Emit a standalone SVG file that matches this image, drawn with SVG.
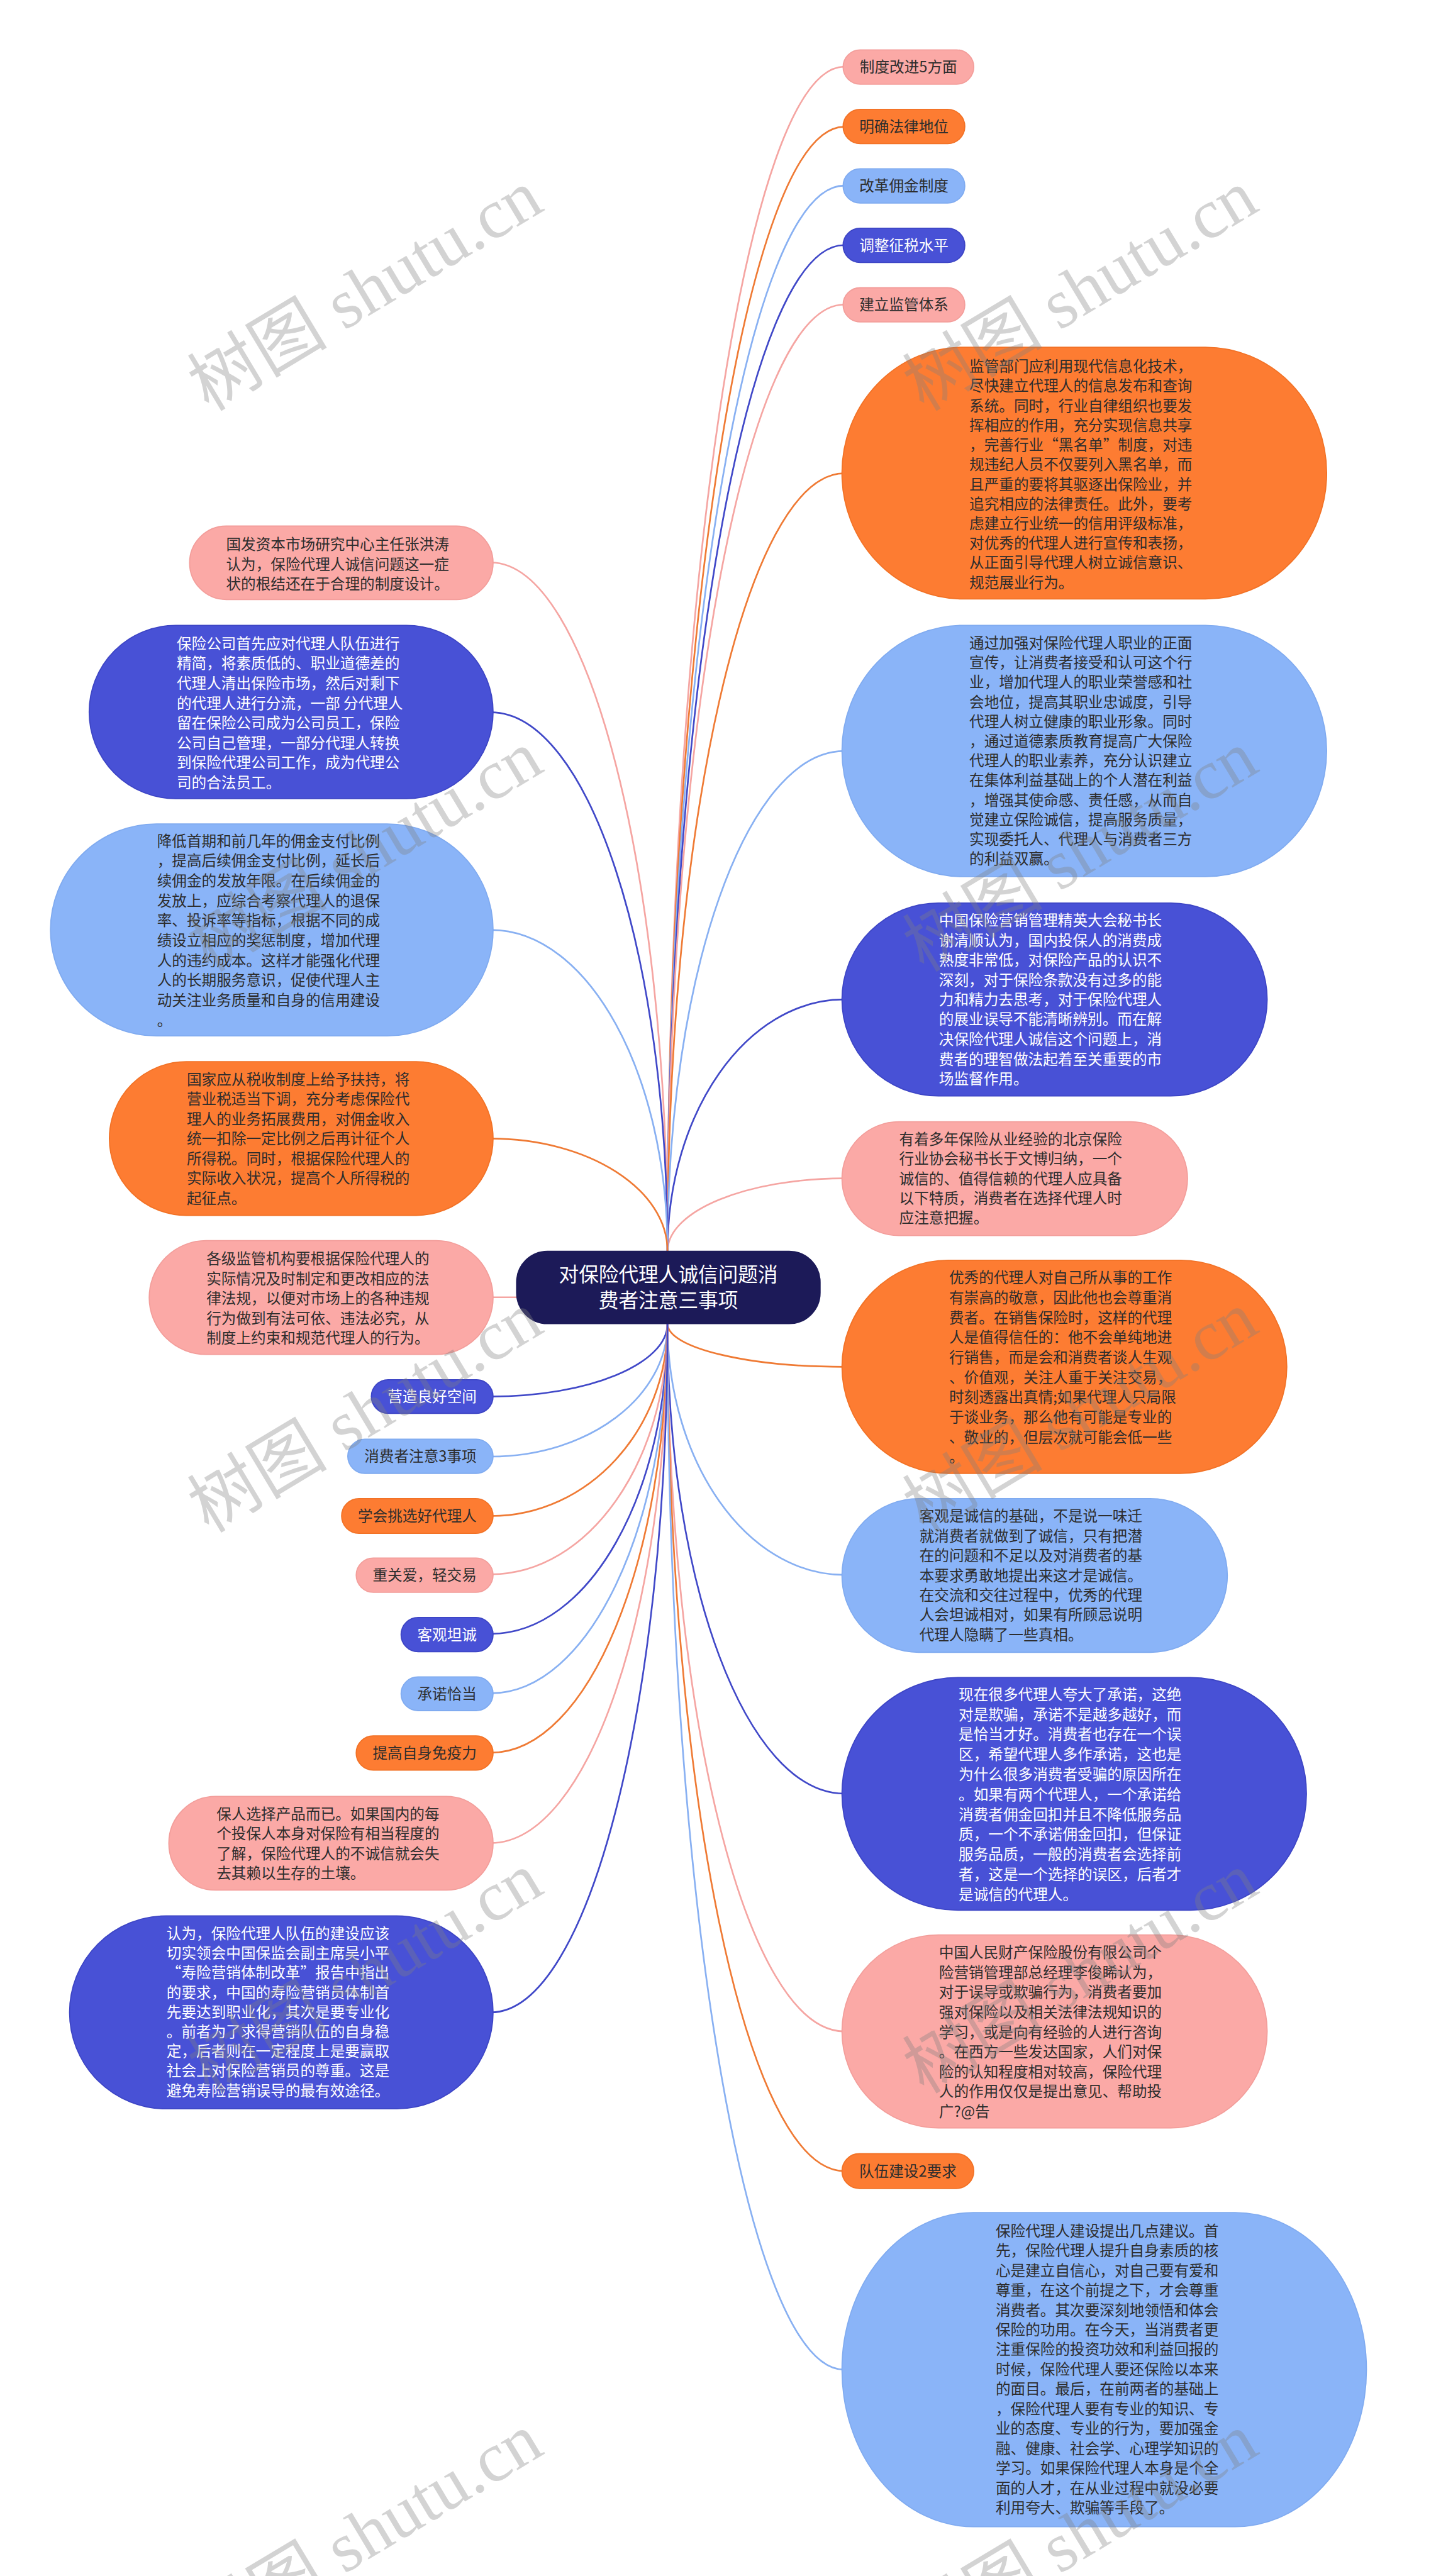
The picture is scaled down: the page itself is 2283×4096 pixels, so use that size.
<svg xmlns="http://www.w3.org/2000/svg" width="2283" height="4096" viewBox="0 0 2283 4096">
<style>
.t{font-family:"Noto Sans CJK SC","Liberation Sans",sans-serif;font-size:26.5px}
.c{text-anchor:middle}
.d{fill:#2d2d2d}
.w{fill:#ffffff}
.pk{fill:#fba9a6;stroke:#f39e9b;stroke-width:2}
.or{fill:#fd7c32;stroke:#f27226;stroke-width:2}
.lb{fill:#8ab4f8;stroke:#80abf0;stroke-width:2}
.db{fill:#4851d6;stroke:#3d45c5;stroke-width:2}
.nv{fill:#1c1a58;stroke:#1c1a58;stroke-width:2}
.cl{fill:none;stroke-width:3}
.cpk{stroke:#f5a5a2}.cor{stroke:#ef7a34}.clb{stroke:#88b0f2}.cdb{stroke:#4048c8}
.wm{font-family:"Liberation Serif","Noto Sans CJK SC",serif;font-size:125px;fill:#808080;opacity:.34;text-anchor:middle;dominant-baseline:central}
</style>
<rect width="2283" height="4096" fill="#ffffff"/>
<g transform="scale(0.8918)">
<g id="connectors">
<path class="cl cpk" d="M1190,2231 C1190,1065 1331,119 1505,119"/>
<path class="cl cor" d="M1190,2231 C1190,1124 1331,226 1505,226"/>
<path class="cl clb" d="M1190,2231 C1190,1182 1331,331 1505,331"/>
<path class="cl cdb" d="M1190,2231 C1190,1241 1331,437 1505,437"/>
<path class="cl cpk" d="M1190,2231 C1190,1299 1331,543 1505,543"/>
<path class="cl cor" d="M1190,2231 C1190,1465 1331,844 1505,844"/>
<path class="cl clb" d="M1190,2231 C1190,1739 1331,1339 1505,1339"/>
<path class="cl cdb" d="M1190,2231 C1190,1983 1331,1782 1505,1782"/>
<path class="cl cpk" d="M1190,2231 C1190,2159 1331,2101 1505,2101"/>
<path class="cl cor" d="M1190,2360 C1190,2403 1331,2437 1505,2437"/>
<path class="cl clb" d="M1190,2360 C1190,2607 1331,2808 1505,2808"/>
<path class="cl cdb" d="M1190,2360 C1190,2823 1331,3198 1505,3198"/>
<path class="cl cpk" d="M1190,2360 C1190,3057 1331,3622 1505,3622"/>
<path class="cl cor" d="M1190,2360 C1190,3194 1331,3871 1505,3871"/>
<path class="cl clb" d="M1190,2360 C1190,3390 1331,4225 1505,4225"/>
<path class="cl cpk" d="M1190,2231 C1190,1553 1049,1003 875,1003"/>
<path class="cl cdb" d="M1190,2231 C1190,1700 1049,1270 875,1270"/>
<path class="cl clb" d="M1190,2231 C1190,1915 1049,1658 875,1658"/>
<path class="cl cor" d="M1190,2231 C1190,2120 1049,2030 875,2030"/>
<path class="cl cpk" d="M1000,2313 L875,2313"/>
<path class="cl cdb" d="M1190,2360 C1190,2432 1049,2490 875,2490"/>
<path class="cl clb" d="M1190,2360 C1190,2491 1049,2597 875,2597"/>
<path class="cl cor" d="M1190,2360 C1190,2549 1049,2703 875,2703"/>
<path class="cl cpk" d="M1190,2360 C1190,2607 1049,2807 875,2807"/>
<path class="cl cdb" d="M1190,2360 C1190,2665 1049,2913 875,2913"/>
<path class="cl clb" d="M1190,2360 C1190,2724 1049,3019 875,3019"/>
<path class="cl cor" d="M1190,2360 C1190,2782 1049,3125 875,3125"/>
<path class="cl cpk" d="M1190,2360 C1190,2871 1049,3286 875,3286"/>
<path class="cl cdb" d="M1190,2360 C1190,3038 1049,3588 875,3588"/>
</g>

<g id="center">
<rect class="nv" x="921" y="2231" width="541" height="129" rx="55"/>
<text class="t c w" style="font-size:35.5px"><tspan x="1191.5" y="2285">对保险代理人诚信问题消</tspan><tspan x="1191.5" y="2331">费者注意三事项</tspan></text>
</g>

<g id="r1"><rect class="pk" x="1503" y="89" width="233" height="61" rx="30.5"/><text class="t c d" x="1619.5" y="129">制度改进5方面</text></g>
<g id="r2"><rect class="or" x="1503" y="195" width="217" height="61" rx="30.5"/><text class="t c d" x="1611.5" y="235">明确法律地位</text></g>
<g id="r3"><rect class="lb" x="1503" y="301" width="217" height="61" rx="30.5"/><text class="t c d" x="1611.5" y="341">改革佣金制度</text></g>
<g id="r4"><rect class="db" x="1503" y="407" width="217" height="61" rx="30.5"/><text class="t c w" x="1611.5" y="447">调整征税水平</text></g>
<g id="r5"><rect class="pk" x="1503" y="513" width="217" height="61" rx="30.5"/><text class="t c d" x="1611.5" y="553">建立监管体系</text></g>

<g id="r6"><rect class="or" x="1501" y="619" width="864" height="449" rx="216" ry="224"/>
<text class="t d"><tspan x="1728" y="663">监管部门应利用现代信息化技术，</tspan><tspan x="1728" y="698">尽快建立代理人的信息发布和查询</tspan><tspan x="1728" y="733">系统。同时，行业自律组织也要发</tspan><tspan x="1728" y="768">挥相应的作用，充分实现信息共享</tspan><tspan x="1728" y="803">，完善行业“黑名单”制度，对违</tspan><tspan x="1728" y="838">规违纪人员不仅要列入黑名单，而</tspan><tspan x="1728" y="873">且严重的要将其驱逐出保险业，并</tspan><tspan x="1728" y="908">追究相应的法律责任。此外，要考</tspan><tspan x="1728" y="943">虑建立行业统一的信用评级标准，</tspan><tspan x="1728" y="978">对优秀的代理人进行宣传和表扬，</tspan><tspan x="1728" y="1013">从正面引导代理人树立诚信意识、</tspan><tspan x="1728" y="1048">规范展业行为。</tspan></text></g>

<g id="r7"><rect class="lb" x="1501" y="1115" width="864" height="448" rx="216" ry="224"/>
<text class="t d"><tspan x="1728" y="1156">通过加强对保险代理人职业的正面</tspan><tspan x="1728" y="1191">宣传，让消费者接受和认可这个行</tspan><tspan x="1728" y="1226">业，增加代理人的职业荣誉感和社</tspan><tspan x="1728" y="1261">会地位，提高其职业忠诚度，引导</tspan><tspan x="1728" y="1296">代理人树立健康的职业形象。同时</tspan><tspan x="1728" y="1331">，通过道德素质教育提高广大保险</tspan><tspan x="1728" y="1366">代理人的职业素养，充分认识建立</tspan><tspan x="1728" y="1401">在集体利益基础上的个人潜在利益</tspan><tspan x="1728" y="1436">，增强其使命感、责任感，从而自</tspan><tspan x="1728" y="1471">觉建立保险诚信，提高服务质量，</tspan><tspan x="1728" y="1506">实现委托人、代理人与消费者三方</tspan><tspan x="1728" y="1541">的利益双赢。</tspan></text></g>

<g id="r8"><rect class="db" x="1501" y="1610" width="758" height="344" rx="172"/>
<text class="t w"><tspan x="1674" y="1651">中国保险营销管理精英大会秘书长</tspan><tspan x="1674" y="1686">谢清顺认为，国内投保人的消费成</tspan><tspan x="1674" y="1721.5">熟度非常低，对保险产品的认识不</tspan><tspan x="1674" y="1757">深刻，对于保险条款没有过多的能</tspan><tspan x="1674" y="1792">力和精力去思考，对于保险代理人</tspan><tspan x="1674" y="1827">的展业误导不能清晰辨别。而在解</tspan><tspan x="1674" y="1862.5">决保险代理人诚信这个问题上，消</tspan><tspan x="1674" y="1898">费者的理智做法起着至关重要的市</tspan><tspan x="1674" y="1933">场监督作用。</tspan></text></g>

<g id="r9"><rect class="pk" x="1501" y="2000" width="616" height="203" rx="101.5"/>
<text class="t d"><tspan x="1603" y="2041">有着多年保险从业经验的北京保险</tspan><tspan x="1603" y="2076">行业协会秘书长于文博归纳，一个</tspan><tspan x="1603" y="2111">诚信的、值得信赖的代理人应具备</tspan><tspan x="1603" y="2146">以下特质，消费者在选择代理人时</tspan><tspan x="1603" y="2181">应注意把握。</tspan></text></g>

<g id="r10"><rect class="or" x="1501" y="2247" width="793" height="380" rx="190"/>
<text class="t d"><tspan x="1692" y="2288">优秀的代理人对自己所从事的工作</tspan><tspan x="1692" y="2323.5">有崇高的敬意，因此他也会尊重消</tspan><tspan x="1692" y="2359">费者。在销售保险时，这样的代理</tspan><tspan x="1692" y="2394.5">人是值得信任的：他不会单纯地进</tspan><tspan x="1692" y="2430">行销售，而是会和消费者谈人生观</tspan><tspan x="1692" y="2465.5">、价值观，关注人重于关注交易，</tspan><tspan x="1692" y="2501">时刻透露出真情;如果代理人只局限</tspan><tspan x="1692" y="2536.5">于谈业务，那么他有可能是专业的</tspan><tspan x="1692" y="2572">、敬业的，但层次就可能会低一些</tspan><tspan x="1692" y="2607.5">。</tspan></text></g>

<g id="r11"><rect class="lb" x="1501" y="2672" width="687" height="274" rx="137"/>
<text class="t d"><tspan x="1639" y="2713">客观是诚信的基础，不是说一味迁</tspan><tspan x="1639" y="2748">就消费者就做到了诚信，只有把潜</tspan><tspan x="1639" y="2783.5">在的问题和不足以及对消费者的基</tspan><tspan x="1639" y="2819">本要求勇敢地提出来这才是诚信。</tspan><tspan x="1639" y="2854">在交流和交往过程中，优秀的代理</tspan><tspan x="1639" y="2889">人会坦诚相对，如果有所顾忌说明</tspan><tspan x="1639" y="2924">代理人隐瞒了一些真相。</tspan></text></g>

<g id="r12"><rect class="db" x="1501" y="2991" width="828" height="415" rx="207"/>
<text class="t w"><tspan x="1709" y="3031">现在很多代理人夸大了承诺，这绝</tspan><tspan x="1709" y="3066.6">对是欺骗，承诺不是越多越好，而</tspan><tspan x="1709" y="3102">是恰当才好。消费者也存在一个误</tspan><tspan x="1709" y="3137.8">区，希望代理人多作承诺，这也是</tspan><tspan x="1709" y="3173.4">为什么很多消费者受骗的原因所在</tspan><tspan x="1709" y="3209">。如果有两个代理人，一个承诺给</tspan><tspan x="1709" y="3244.6">消费者佣金回扣并且不降低服务品</tspan><tspan x="1709" y="3280">质，一个不承诺佣金回扣，但保证</tspan><tspan x="1709" y="3315.8">服务品质，一般的消费者会选择前</tspan><tspan x="1709" y="3351.4">者，这是一个选择的误区，后者才</tspan><tspan x="1709" y="3387">是诚信的代理人。</tspan></text></g>

<g id="r13"><rect class="pk" x="1501" y="3450" width="758" height="344" rx="172"/>
<text class="t d"><tspan x="1674" y="3491">中国人民财产保险股份有限公司个</tspan><tspan x="1674" y="3526.4">险营销管理部总经理李俊睎认为，</tspan><tspan x="1674" y="3561.8">对于误导或欺骗行为，消费者要加</tspan><tspan x="1674" y="3597.2">强对保险以及相关法律法规知识的</tspan><tspan x="1674" y="3632.6">学习，或是向有经验的人进行咨询</tspan><tspan x="1674" y="3668">。在西方一些发达国家，人们对保</tspan><tspan x="1674" y="3703.4">险的认知程度相对较高，保险代理</tspan><tspan x="1674" y="3738.8">人的作用仅仅是提出意见、帮助投</tspan><tspan x="1674" y="3774.2">广?@告</tspan></text></g>

<g id="r14"><rect class="or" x="1501" y="3840" width="235" height="62" rx="31"/><text class="t c d" x="1618.5" y="3880.5">队伍建设2要求</text></g>

<g id="r15"><rect class="lb" x="1501" y="3945" width="935" height="560" rx="234" ry="280"/>
<text class="t d"><tspan x="1775" y="3987">保险代理人建设提出几点建议。首</tspan><tspan x="1775" y="4022.3">先，保险代理人提升自身素质的核</tspan><tspan x="1775" y="4057.6">心是建立自信心，对自己要有爱和</tspan><tspan x="1775" y="4092.9">尊重，在这个前提之下，才会尊重</tspan><tspan x="1775" y="4128.2">消费者。其次要深刻地领悟和体会</tspan><tspan x="1775" y="4163.5">保险的功用。在今天，当消费者更</tspan><tspan x="1775" y="4198.8">注重保险的投资功效和利益回报的</tspan><tspan x="1775" y="4234.1">时候，保险代理人要还保险以本来</tspan><tspan x="1775" y="4269.4">的面目。最后，在前两者的基础上</tspan><tspan x="1775" y="4304.7">，保险代理人要有专业的知识、专</tspan><tspan x="1775" y="4340">业的态度、专业的行为，要加强金</tspan><tspan x="1775" y="4375.3">融、健康、社会学、心理学知识的</tspan><tspan x="1775" y="4410.6">学习。如果保险代理人本身是个全</tspan><tspan x="1775" y="4445.9">面的人才，在从业过程中就没必要</tspan><tspan x="1775" y="4481.2">利用夸大、欺骗等手段了。</tspan></text></g>

<g id="l1"><rect class="pk" x="338" y="938" width="541" height="131" rx="65.5"/>
<text class="t d"><tspan x="403" y="980">国发资本市场研究中心主任张洪涛</tspan><tspan x="403" y="1015.5">认为，保险代理人诚信问题这一症</tspan><tspan x="403" y="1051">状的根结还在于合理的制度设计。</tspan></text></g>

<g id="l2"><rect class="db" x="159" y="1115" width="720" height="309" rx="154.5"/>
<text class="t w"><tspan x="315" y="1157">保险公司首先应对代理人队伍进行</tspan><tspan x="315" y="1192.4">精简，将素质低的、职业道德差的</tspan><tspan x="315" y="1227.8">代理人清出保险市场，然后对剩下</tspan><tspan x="315" y="1263.2">的代理人进行分流，一部 分代理人</tspan><tspan x="315" y="1298.6">留在保险公司成为公司员工，保险</tspan><tspan x="315" y="1334">公司自己管理，一部分代理人转换</tspan><tspan x="315" y="1369.4">到保险代理公司工作，成为代理公</tspan><tspan x="315" y="1404.8">司的合法员工。</tspan></text></g>

<g id="l3"><rect class="lb" x="90" y="1469" width="789" height="378" rx="189"/>
<text class="t d"><tspan x="280" y="1509">降低首期和前几年的佣金支付比例</tspan><tspan x="280" y="1544.5">，提高后续佣金支付比例，延长后</tspan><tspan x="280" y="1580">续佣金的发放年限。在后续佣金的</tspan><tspan x="280" y="1615.5">发放上，应综合考察代理人的退保</tspan><tspan x="280" y="1651">率、投诉率等指标，根据不同的成</tspan><tspan x="280" y="1686.5">绩设立相应的奖惩制度，增加代理</tspan><tspan x="280" y="1722">人的违约成本。这样才能强化代理</tspan><tspan x="280" y="1757.5">人的长期服务意识，促使代理人主</tspan><tspan x="280" y="1793">动关注业务质量和自身的信用建设</tspan><tspan x="280" y="1828.5">。</tspan></text></g>

<g id="l4"><rect class="or" x="195" y="1893" width="684" height="274" rx="137"/>
<text class="t d"><tspan x="333" y="1934">国家应从税收制度上给予扶持，将</tspan><tspan x="333" y="1969.3">营业税适当下调，充分考虑保险代</tspan><tspan x="333" y="2004.6">理人的业务拓展费用，对佣金收入</tspan><tspan x="333" y="2039.9">统一扣除一定比例之后再计征个人</tspan><tspan x="333" y="2075.2">所得税。同时，根据保险代理人的</tspan><tspan x="333" y="2110.5">实际收入状况，提高个人所得税的</tspan><tspan x="333" y="2145.8">起征点。</tspan></text></g>

<g id="l5"><rect class="pk" x="266" y="2212" width="613" height="203" rx="101.5"/>
<text class="t d"><tspan x="368" y="2254">各级监管机构要根据保险代理人的</tspan><tspan x="368" y="2289.3">实际情况及时制定和更改相应的法</tspan><tspan x="368" y="2324.6">律法规，以便对市场上的各种违规</tspan><tspan x="368" y="2359.9">行为做到有法可依、违法必究，从</tspan><tspan x="368" y="2395.2">制度上约束和规范代理人的行为。</tspan></text></g>

<g id="l6"><rect class="db" x="662" y="2460" width="217" height="60" rx="30"/><text class="t c w" x="770.5" y="2499.5">营造良好空间</text></g>
<g id="l7"><rect class="lb" x="620" y="2566" width="259" height="61" rx="30.5"/><text class="t c d" x="749.5" y="2606">消费者注意3事项</text></g>
<g id="l8"><rect class="or" x="609" y="2672" width="270" height="62" rx="31"/><text class="t c d" x="744" y="2712.5">学会挑选好代理人</text></g>
<g id="l9"><rect class="pk" x="635" y="2778" width="244" height="61" rx="30.5"/><text class="t c d" x="757" y="2818">重关爱，轻交易</text></g>
<g id="l10"><rect class="db" x="715" y="2884" width="164" height="61" rx="30.5"/><text class="t c w" x="797" y="2924">客观坦诚</text></g>
<g id="l11"><rect class="lb" x="715" y="2990" width="164" height="60" rx="30"/><text class="t c d" x="797" y="3029.5">承诺恰当</text></g>
<g id="l12"><rect class="or" x="635" y="3095" width="244" height="61" rx="30.5"/><text class="t c d" x="757" y="3135">提高自身免疫力</text></g>

<g id="l13"><rect class="pk" x="301" y="3203" width="578" height="167" rx="83.5"/>
<text class="t d"><tspan x="386" y="3244">保人选择产品而已。如果国内的每</tspan><tspan x="386" y="3279.3">个投保人本身对保险有相当程度的</tspan><tspan x="386" y="3314.6">了解，保险代理人的不诚信就会失</tspan><tspan x="386" y="3349.9">去其赖以生存的土壤。</tspan></text></g>

<g id="l14"><rect class="db" x="124" y="3416" width="755" height="344" rx="172"/>
<text class="t w"><tspan x="297" y="3457">认为，保险代理人队伍的建设应该</tspan><tspan x="297" y="3492">切实领会中国保监会副主席吴小平</tspan><tspan x="297" y="3527">“寿险营销体制改革”报告中指出</tspan><tspan x="297" y="3562">的要求，中国的寿险营销员体制首</tspan><tspan x="297" y="3597">先要达到职业化，其次是要专业化</tspan><tspan x="297" y="3632">。前者为了求得营销队伍的自身稳</tspan><tspan x="297" y="3667">定，后者则在一定程度上是要赢取</tspan><tspan x="297" y="3702">社会上对保险营销员的尊重。这是</tspan><tspan x="297" y="3737">避免寿险营销误导的最有效途径。</tspan></text></g>

<g id="watermark">
<text class="wm" transform="translate(651,518) rotate(-31)">树图 shutu.cn</text>
<text class="wm" transform="translate(1926,518) rotate(-31)">树图 shutu.cn</text>
<text class="wm" transform="translate(651,1518) rotate(-31)">树图 shutu.cn</text>
<text class="wm" transform="translate(1926,1518) rotate(-31)">树图 shutu.cn</text>
<text class="wm" transform="translate(651,2518) rotate(-31)">树图 shutu.cn</text>
<text class="wm" transform="translate(1926,2518) rotate(-31)">树图 shutu.cn</text>
<text class="wm" transform="translate(651,3518) rotate(-31)">树图 shutu.cn</text>
<text class="wm" transform="translate(1926,3518) rotate(-31)">树图 shutu.cn</text>
<text class="wm" transform="translate(651,4518) rotate(-31)">树图 shutu.cn</text>
<text class="wm" transform="translate(1926,4518) rotate(-31)">树图 shutu.cn</text>
</g>
</g>
</svg>
